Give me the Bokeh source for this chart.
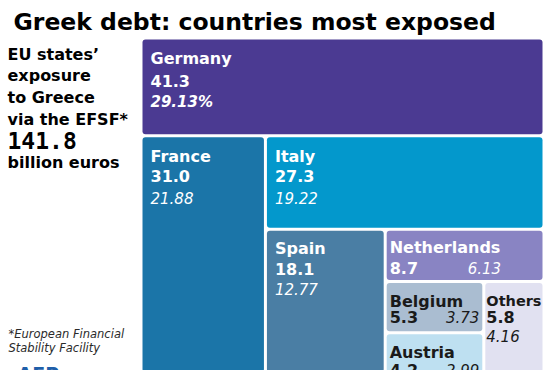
from bokeh.plotting import figure
from bokeh.models import ColumnDataSource, Range1d
from bokeh.core.properties import value
from bokeh.embed import file_html
from bokeh.resources import INLINE

# ---------------- data ----------------
title_text = "Greek debt: countries most exposed"
side_lines = ["EU states\u2019", "exposure", "to Greece", "via the EFSF*"]
total_text = "141.8"
unit_text = "billion euros"
footnote_lines = ["*European Financial", "Stability Facility"]
logo_text = "AFP"

countries = ["Germany", "France", "Italy", "Spain", "Netherlands", "Belgium", "Austria", "Others"]
exposure = [41.3, 31.0, 27.3, 18.1, 8.7, 5.3, 4.2, 5.8]
share = ["29.13%", "21.88", "19.22", "12.77", "6.13", "3.73", "2.99", "4.16"]
# nesting order of the slice-and-dice treemap
groups = [["Germany"], ["France"], ["Italy"], ["Spain"], ["Netherlands"], ["Belgium", "Austria"], ["Others"]]

# ---------------- style ----------------
fill = {"Germany": "#4b3a92", "France": "#1b75a8", "Italy": "#0398cc", "Spain": "#4a7ea4",
        "Netherlands": "#8984c3", "Belgium": "#aabdd1", "Austria": "#bee0f1", "Others": "#e1e1f1"}
dark_text = {"Belgium", "Austria", "Others"}
# (pad, name offset, value offset, share offset, share mode, name size)
label_style = {
    "Germany": (8, 19, 41, 62, "below", "16px"),
    "France": (8, 19, 39, 61, "below", "16px"),
    "Italy": (8, 19, 39, 61, "below", "16px"),
    "Spain": (8, 18, 38, 58, "below", "16px"),
    "Netherlands": (3, 17, 37, 37, "inline", "16px"),
    "Belgium": (3, 18, 34, 34, "right", "16px"),
    "Austria": (3, 18, 36, 36, "right", "16px"),
    "Others": (1, 18, 34, 53, "below", "14.5px"),
}
region = (140.5, 37.5, 543.5, 373.0)  # x0, top, x1, bottom (screen-like coords)
gap = 1.5

val = dict(zip(countries, exposure))


def slice_dice(x0, y0, x1, y1):
    out = {}
    remaining = sum(exposure)
    horiz = True
    for g in groups:
        gv = sum(val[n] for n in g)
        if horiz:
            h = (y1 - y0) * gv / remaining
            bx0, by0, bx1, by1 = x0, y0, x1, y0 + h
            y0 += h
            cx = bx0
            for n in g:
                w = (bx1 - bx0) * val[n] / gv
                out[n] = (cx, by0, cx + w, by1)
                cx += w
        else:
            w = (x1 - x0) * gv / remaining
            bx0, by0, bx1, by1 = x0, y0, x0 + w, y1
            x0 += w
            cy = by0
            for n in g:
                h = (by1 - by0) * val[n] / gv
                out[n] = (bx0, cy, bx1, cy + h)
                cy += h
        remaining -= gv
        horiz = not horiz
    return out


rects = slice_dice(*region)

W, H = 556, 370
p = figure(width=W, height=H, x_range=Range1d(0, W), y_range=Range1d(H, 0),
           output_backend="svg", toolbar_location=None, min_border=0)
p.axis.visible = False
p.grid.visible = False
p.outline_line_color = None
p.background_fill_color = "white"
p.border_fill_color = "white"

L = [rects[n][0] + gap for n in countries]
T = [rects[n][1] + gap for n in countries]
R = [rects[n][2] - gap for n in countries]
B = [rects[n][3] - gap for n in countries]
src = ColumnDataSource(dict(left=L, right=R, top=T, bottom=B, color=[fill[n] for n in countries]))
p.quad(left="left", right="right", top="top", bottom="bottom", source=src,
       fill_color="color", line_color=None, border_radius=3)

nx, ny, vx, vy, sx, sy, sa, tc, sfs, nfs = [], [], [], [], [], [], [], [], [], []
for i, n in enumerate(countries):
    pad, on, ov, os_, mode, nsize = label_style[n]
    nx.append(L[i] + pad); ny.append(T[i] + on)
    vx.append(L[i] + pad); vy.append(T[i] + ov)
    if mode == "below":
        sx.append(L[i] + pad); sa.append("left")
    elif mode == "right":
        sx.append(R[i] - 3); sa.append("right")
    else:
        sx.append(L[i] + 81); sa.append("left")
    sy.append(T[i] + os_)
    tc.append("#1a1a1a" if n in dark_text else "white")
    sfs.append("bold italic" if n == "Germany" else "italic")
    nfs.append(nsize)

lab = ColumnDataSource(dict(nx=nx, ny=ny, vx=vx, vy=vy, sx=sx, sy=sy, sa=sa, tc=tc, sfs=sfs, nfs=nfs,
                            name=countries, val=["%.1f" % v for v in exposure], pct=share))
font = value("DejaVu Sans")
p.text(x="nx", y="ny", text="name", source=lab, text_color="tc", text_font=font,
       text_font_style="bold", text_font_size="nfs", text_baseline="alphabetic")
p.text(x="vx", y="vy", text="val", source=lab, text_color="tc", text_font=font,
       text_font_style="bold", text_font_size="16px", text_baseline="alphabetic")
p.text(x="sx", y="sy", text="pct", source=lab, text_color="tc", text_font=font,
       text_font_style="sfs", text_font_size="15px", text_baseline="alphabetic", text_align="sa")

# title and side texts
p.text(x=[13], y=[21], text=[title_text], text_font=font, text_font_style="bold",
       text_font_size="23.5px", text_color="black", text_baseline="alphabetic")
p.text(x=[7] * 4, y=[54, 75, 97, 119], text=side_lines, text_font=font,
       text_font_style="bold", text_font_size="16px", text_color="black", text_baseline="alphabetic")
p.text(x=[7], y=[140], text=[total_text], text_font=value("DejaVu Sans Mono"),
       text_font_style="bold", text_font_size="23px", text_color="black", text_baseline="alphabetic")
p.text(x=[7], y=[162], text=[unit_text], text_font=font,
       text_font_style="bold", text_font_size="16px", text_color="black", text_baseline="alphabetic")
p.text(x=[8, 8], y=[333, 347], text=footnote_lines, text_font=font,
       text_font_style="italic", text_font_size="11.5px", text_color="#2a2a2a", text_baseline="alphabetic")
# agency logo, cut by the bottom edge as in the original
p.text(x=[17], y=[362], text=[logo_text], text_font=font,
       text_font_style="bold", text_font_size="19px", text_color="#1f5fa9", text_baseline="top")

open("out.html", "w").write(file_html(p, INLINE))
